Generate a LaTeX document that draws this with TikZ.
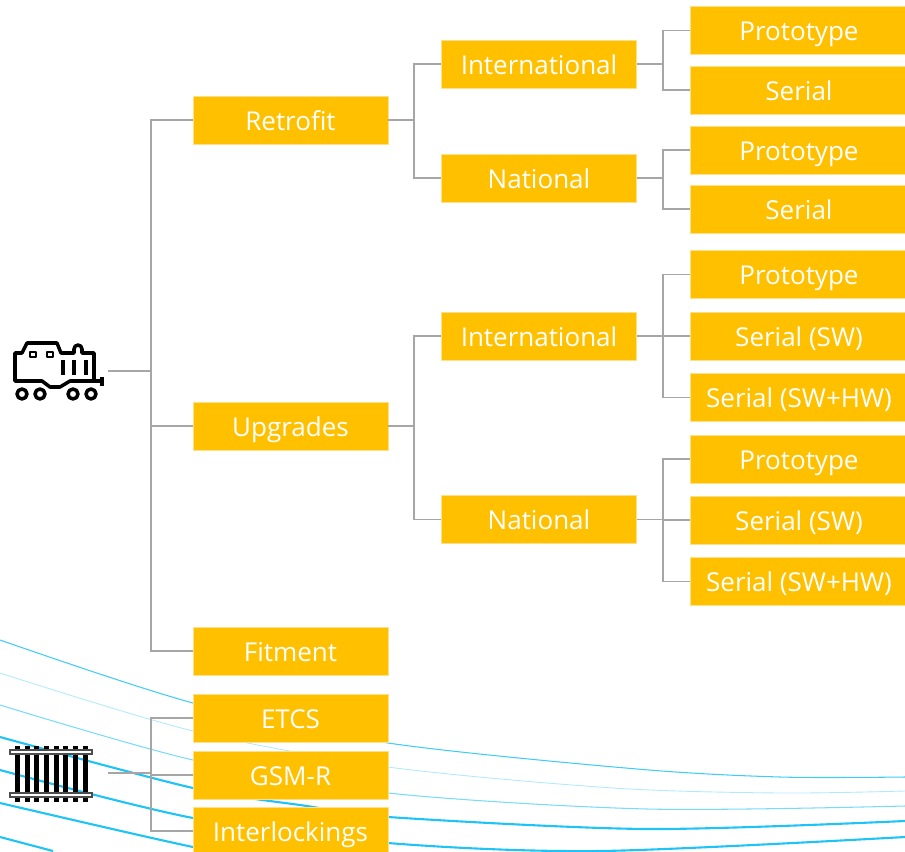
\documentclass[tikz,border=0pt]{standalone}
\usepackage{fontspec}
\setmainfont{Open Sans}
\usepackage{xcolor}
\usetikzlibrary{positioning}
\definecolor{boxfill}{HTML}{FFC000}
\definecolor{boxedge}{HTML}{FFE08A}
\definecolor{linkgray}{HTML}{A6A6A6}
\definecolor{swoosh}{HTML}{1FC3F5}
\tikzset{
	itembox/.style={draw=boxedge,line width=0.3pt,fill=boxfill,text=white,minimum width=3.9cm,minimum height=0.96cm,inner sep=0pt,text height=13pt,text depth=1.1pt,font=\fontsize{14.8}{15}\selectfont},
	leafbox/.style={itembox,minimum width=4.36cm},
	link/.style={linkgray,line width=1pt},
	thinwave/.style={swoosh,line width=0.6pt,opacity=0.85},
	palewave/.style={swoosh,line width=0.5pt,opacity=0.35},
	thickwave/.style={swoosh,line width=1.2pt},
	icon/.style={black,line width=2pt,line join=round}
}
\begin{document}
\begin{tikzpicture}[x=0.02cm,y=-0.02cm]
	\useasboundingbox (0,0) rectangle (905,851);
	% background waves
	\draw[thinwave] plot[smooth] coordinates {(0,640) (193,703) (388,743) (637,769) (780,777) (905,777)};
	\draw[palewave] plot[smooth] coordinates {(0,673) (193,731) (388,767) (613,788) (780,793) (905,791)};
	\draw[thinwave,opacity=0.6] plot[smooth] coordinates {(0,705) (193,760) (388,793) (647,809) (905,806)};
	\draw[thickwave] plot[smooth] coordinates {(0,737) (193,788) (307,806) (388,817) (647,829) (905,821)};
	\draw[thickwave] plot[smooth] coordinates {(0,770) (193,818) (388,843) (600,851) (905,837)};
	\draw[thickwave] plot[smooth] coordinates {(0,803) (193,847) (260,856)};
	\draw[thickwave] (0,837) -- (53,851);
	% boxes
	\node[itembox] (retrofit) at (290.5,120) {Retrofit};
	\node[itembox] (upgrades) at (290.5,426) {Upgrades};
	\node[itembox] (fitment) at (290.5,651) {Fitment};
	\node[itembox] (etcs) at (290.5,718) {ETCS};
	\node[itembox] (gsmr) at (290.5,775) {GSM-R};
	\node[itembox] (interlock) at (290.5,831) {Interlockings};
	\node[itembox] (retint) at (539,64) {International};
	\node[itembox] (retnat) at (539,178) {National};
	\node[itembox] (upgint) at (539,336) {International};
	\node[itembox] (upgnat) at (539,519.5) {National};
	\node[leafbox] (retintp) at (799,30.5) {Prototype};
	\node[leafbox] (retints) at (799,90) {Serial};
	\node[leafbox] (retnatp) at (799,150) {Prototype};
	\node[leafbox] (retnats) at (799,209) {Serial};
	\node[leafbox] (upgintp) at (799,274.5) {Prototype};
	\node[leafbox] (upgintsw) at (799,336) {Serial (SW)};
	\node[leafbox] (upginthw) at (799,397.5) {Serial (SW+HW)};
	\node[leafbox] (upgnatp) at (799,459) {Prototype};
	\node[leafbox] (upgnatsw) at (799,520) {Serial (SW)};
	\node[leafbox] (upgnathw) at (799,581.5) {Serial (SW+HW)};
	% connectors
	\coordinate (loco) at (108,371);
	\coordinate (rail) at (108,773);
	\coordinate (locobus) at (151,371);
	\coordinate (railbus) at (151,773);
	\coordinate (retbus) at (414,120);
	\coordinate (upgbus) at (414,426);
	\coordinate (retintbus) at (663,64);
	\coordinate (retnatbus) at (663,178);
	\coordinate (upgintbus) at (663,336);
	\coordinate (upgnatbus) at (663,519.5);
	\draw[link] (loco) -- (locobus);
	\foreach \n in {retrofit,upgrades,fitment} \draw[link] (locobus) |- (\n.west);
	\draw[link] (rail) -- (railbus);
	\foreach \n in {etcs,gsmr,interlock} \draw[link] (railbus) |- (\n.west);
	\draw[link] (retrofit.east) -- (retbus);
	\foreach \n in {retint,retnat} \draw[link] (retbus) |- (\n.west);
	\draw[link] (upgrades.east) -- (upgbus);
	\foreach \n in {upgint,upgnat} \draw[link] (upgbus) |- (\n.west);
	\draw[link] (retint.east) -- (retintbus);
	\foreach \n in {retintp,retints} \draw[link] (retintbus) |- (\n.west);
	\draw[link] (retnat.east) -- (retnatbus);
	\foreach \n in {retnatp,retnats} \draw[link] (retnatbus) |- (\n.west);
	\draw[link] (upgint.east) -- (upgintbus);
	\foreach \n in {upgintp,upgintsw,upginthw} \draw[link] (upgintbus) |- (\n.west);
	\draw[link] (upgnat.east) -- (upgnatbus);
	\foreach \n in {upgnatp,upgnatsw,upgnathw} \draw[link] (upgnatbus) |- (\n.west);
	% locomotive
	\draw[icon] (15,381) -- (15,353) -- (22,353) -- (27,343) -- (57,343) -- (61,353) -- (74,353) -- (74,349) arc (180:0:0.08cm) -- (82,353) -- (94,353) -- (94,381) -- (70,381) -- (60,387) -- (50,387) -- (42,381) -- cycle;
	\draw[icon] (94,381) -- (102,381) (102,377) -- (102,386);
	\draw[icon,line width=1.5pt] (30,352) rectangle (36,357) (47,352) rectangle (53,357);
	\foreach \x in {63,74,86} \draw[icon] (\x,360) -- (\x,375);
	\foreach \x in {22,40,73,91} \draw[icon] (\x,394) circle (0.1cm);
	% track
	\foreach \x in {17.3,27,36.7,46.3,56,65.7,75.3,85} \fill[black] (\x-2.5,746) rectangle (\x+2.5,802);
	\foreach \y in {750,793} \draw[black!70,fill=white,line width=0.6pt] (10,\y) rectangle (92,\y+4);
\end{tikzpicture}
\end{document}
